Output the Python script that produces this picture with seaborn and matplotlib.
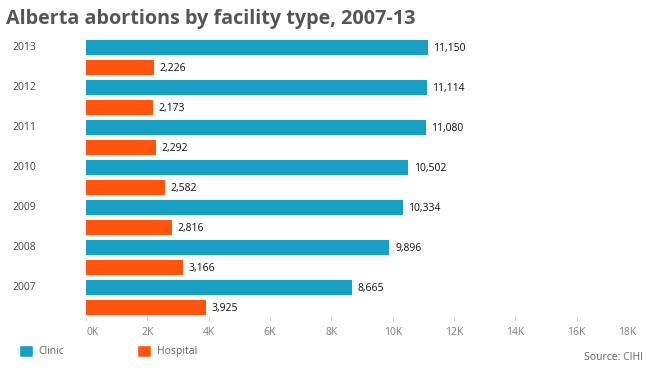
import matplotlib
matplotlib.use("Agg")
import matplotlib.pyplot as plt
import matplotlib.transforms as mtransforms
from matplotlib.patches import Patch
import pandas as pd
import seaborn as sns

years = ["2013", "2012", "2011", "2010", "2009", "2008", "2007"]
clinic = [11150, 11114, 11080, 10502, 10334, 9896, 8665]
hospital = [2226, 2173, 2292, 2582, 2816, 3166, 3925]
x_ticks = [0, 2000, 4000, 6000, 8000, 10000, 12000, 14000, 16000, 18000]
x_tick_labels = ["0K", "2K", "4K", "6K", "8K", "10K", "12K", "14K", "16K", "18K"]

CLINIC_COLOR = "#17a0c4"
HOSPITAL_COLOR = "#ff540c"

df = pd.DataFrame({
	"Year": years * 2,
	"Type": ["Clinic"] * len(years) + ["Hospital"] * len(years),
	"Count": clinic + hospital,
})

sns.set_style("white")
plt.rcParams["font.family"] = ["Open Sans", "DejaVu Sans"]

fig = plt.figure(figsize=(6.46, 3.70), dpi=100)
ax = fig.add_axes([86 / 646, 1 - 317 / 370, 552 / 646, 280 / 370])

sns.barplot(
	data=df, y="Year", x="Count", hue="Type", order=years,
	hue_order=["Clinic", "Hospital"],
	palette=[CLINIC_COLOR, HOSPITAL_COLOR],
	orient="h", width=1.0, saturation=1, legend=False, ax=ax,
)

# shrink bars to leave a gap between clinic and hospital
for p in ax.patches:
	cy = p.get_y() + p.get_height() / 2
	h = 0.375
	p.set_y(cy - h / 2)
	p.set_height(h)
	p.set_linewidth(0)

for container in ax.containers:
	texts = ax.bar_label(container, labels=[f"{v:,.0f}" for v in container.datavalues],
		padding=4, fontsize=7.5, color="#111111")
	for t in texts:
		t.xyann = (4, -1.2)

ax.set_xlim(0, 18000)
ax.set_ylim(6.5, -0.5)
ax.set_xticks(x_ticks)
ax.set_xticklabels(x_tick_labels)
ax.set_yticks([])
ax.set_xlabel("")
ax.set_ylabel("")
for s in ax.spines.values():
	s.set_visible(False)
ax.tick_params(axis="x", length=3, width=0.6, color="#d0d0d0", labelsize=7.5,
	labelcolor="#808080", pad=4, bottom=True)

# first and last tick labels are nudged inwards, as in the original
tick_labels = ax.get_xticklabels()
first_shift = mtransforms.ScaledTranslation(7 / 100, 0, fig.dpi_scale_trans)
last_shift = mtransforms.ScaledTranslation(-11 / 100, 0, fig.dpi_scale_trans)
tick_labels[0].set_transform(tick_labels[0].get_transform() + first_shift)
tick_labels[-1].set_transform(tick_labels[-1].get_transform() + last_shift)
ax.xaxis.get_major_ticks()[-1].tick1line.set_visible(False)

trans = mtransforms.blended_transform_factory(fig.transFigure, ax.transData)
for i, yr in enumerate(years):
	ax.text(12 / 646, i - 0.25, yr, transform=trans, ha="left", va="center",
		fontsize=7.5, color="#444444")

fig.text(6 / 646, 1 - 19 / 370, "Alberta abortions by facility type, 2007-13",
	fontsize=14.2, fontweight="bold", color="#555555", ha="left", va="center")

handles = [Patch(facecolor=CLINIC_COLOR, label="Clinic"),
	Patch(facecolor=HOSPITAL_COLOR, label="Hospital")]
fig.legend(handles=handles, loc="center left", bbox_to_anchor=(10 / 646, 1 - 351 / 370),
	ncol=2, frameon=False, fontsize=7.5, handlelength=1.35, handleheight=1.35,
	handletextpad=0.5, columnspacing=7.0, labelcolor="#666666")

fig.text(643 / 646, 1 - 357 / 370, "Source: CIHI", ha="right", va="center",
	fontsize=7.5, color="#666666")

fig.savefig("out.png", dpi=100)
